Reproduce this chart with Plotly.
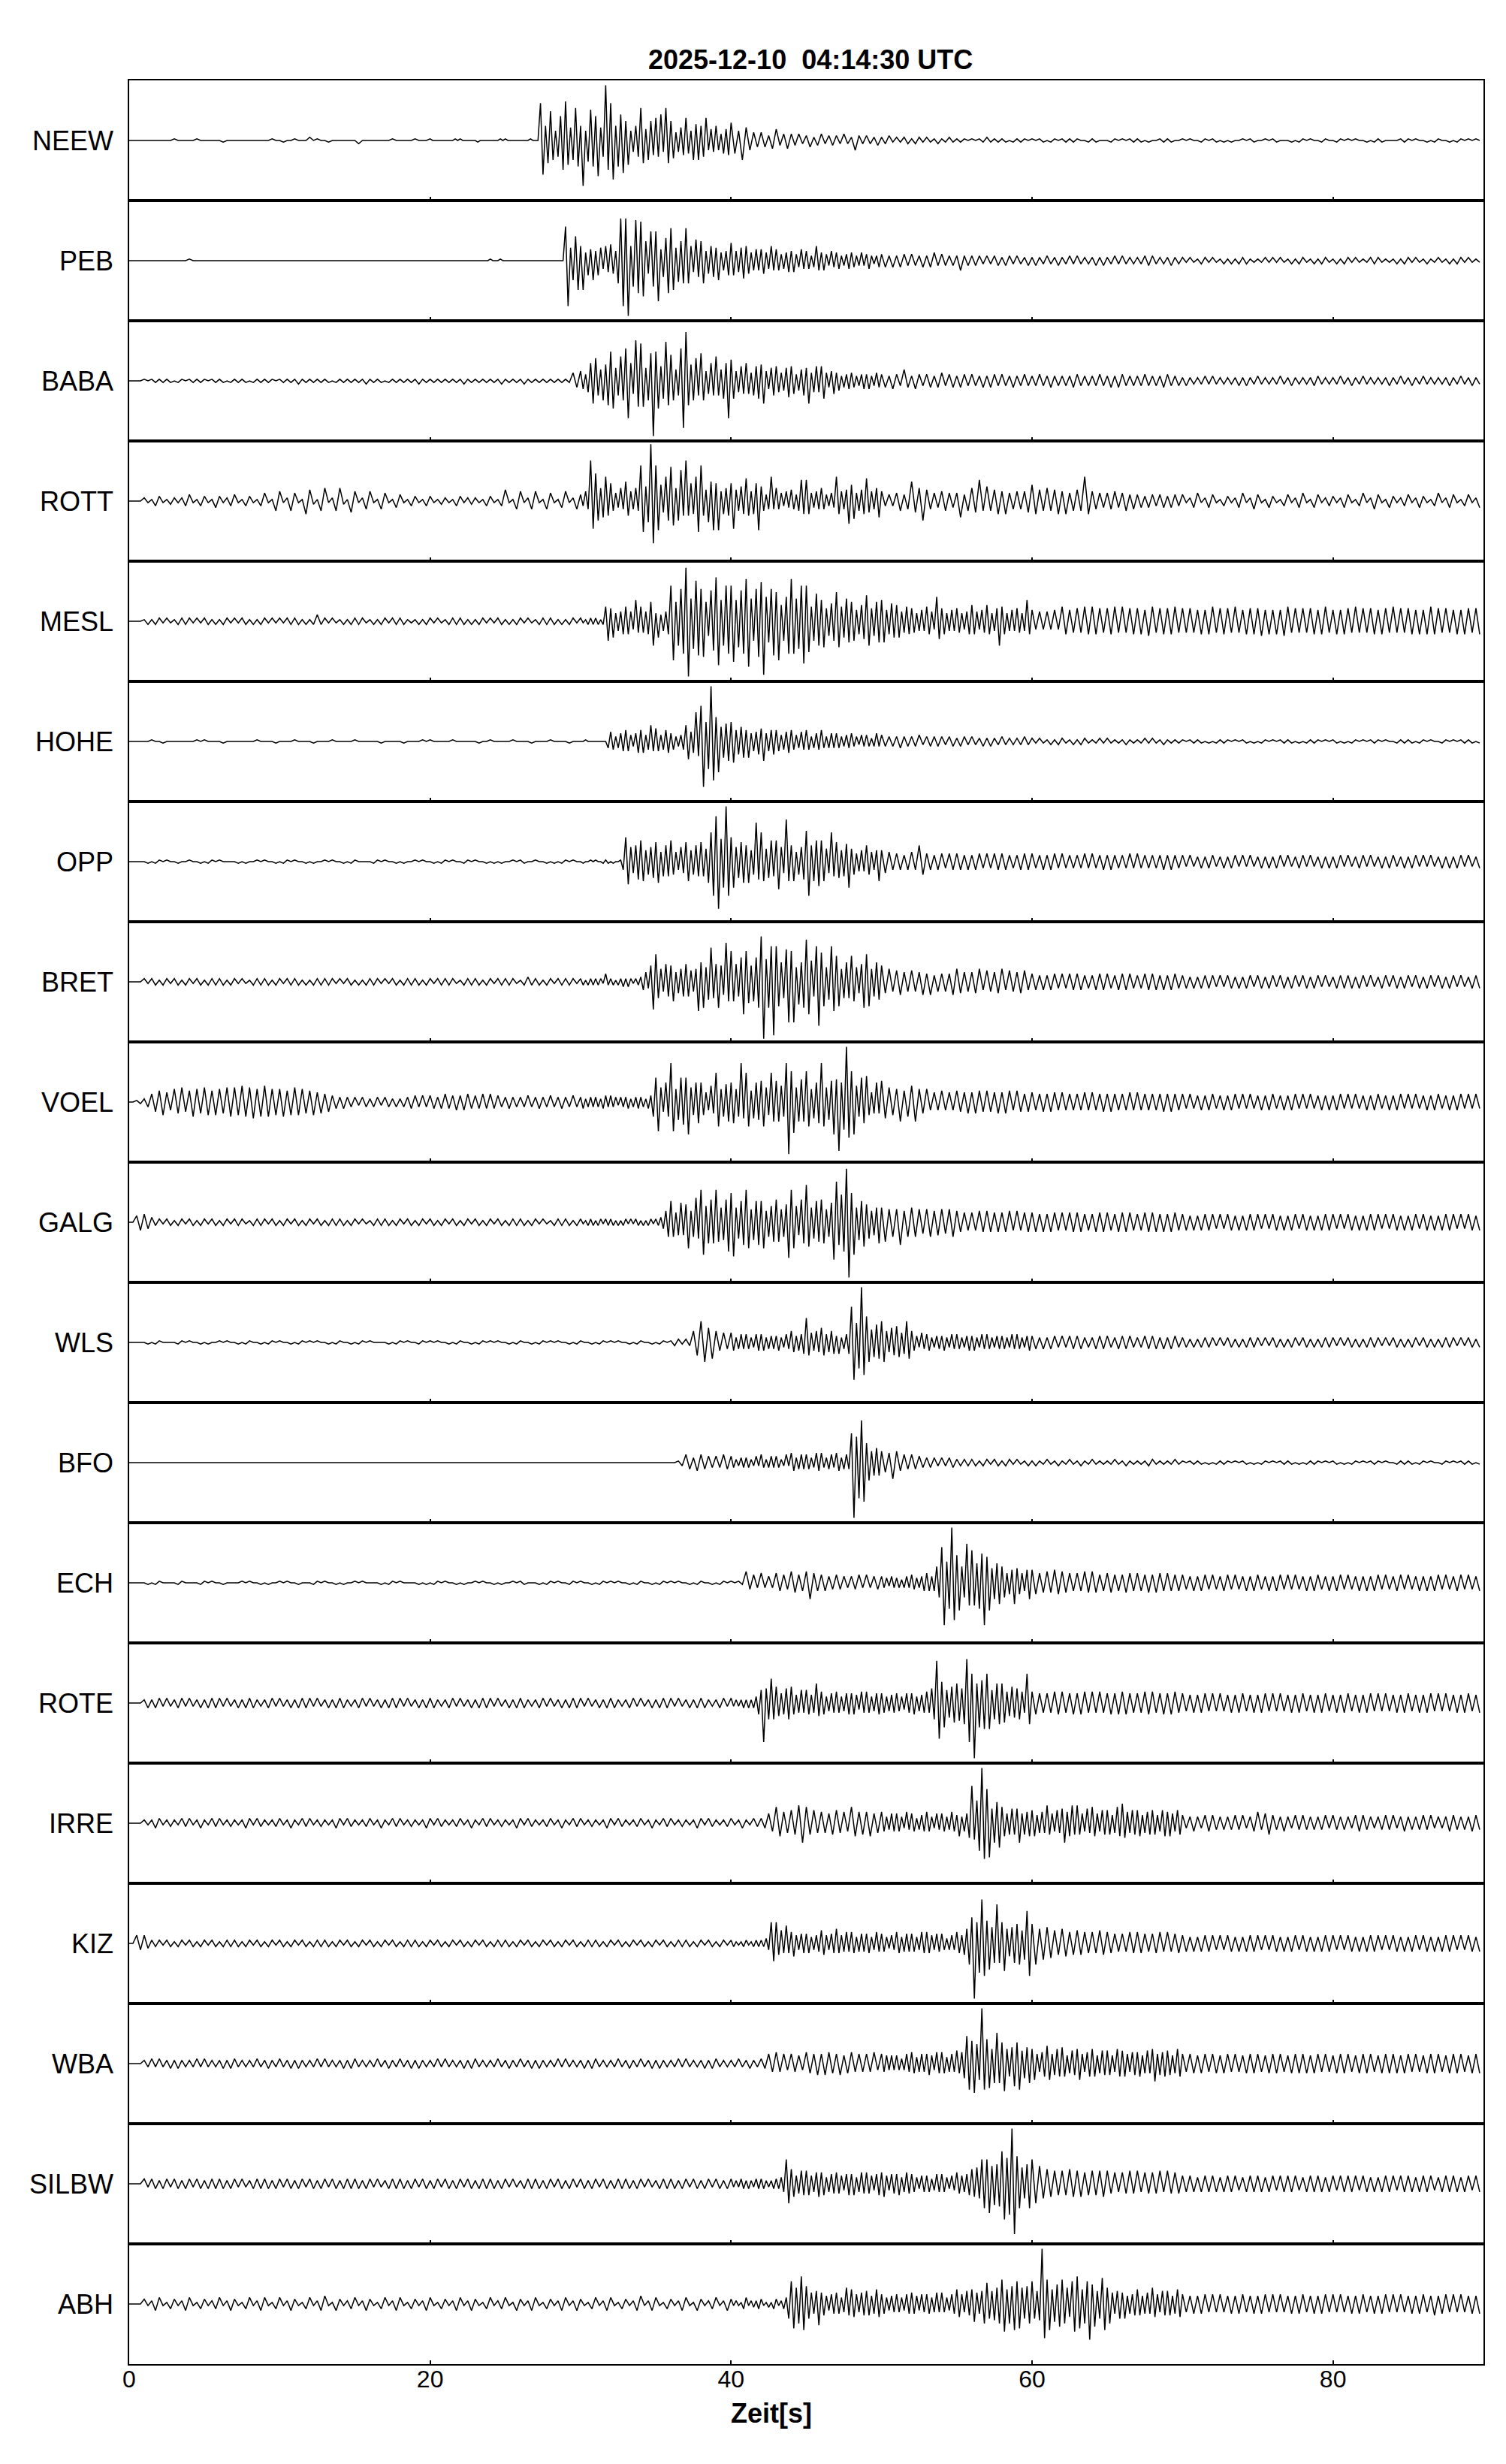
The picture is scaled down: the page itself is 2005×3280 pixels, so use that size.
import plotly.graph_objects as go
from plotly.subplots import make_subplots

# Station names, top to bottom
STATIONS = ["NEEW", "PEB", "BABA", "ROTT", "MESL", "HOHE", "OPP", "BRET", "VOEL",
            "GALG", "WLS", "BFO", "ECH", "ROTE", "IRRE", "KIZ", "WBA", "SILBW", "ABH"]

# Peak amplitudes, one string per 10 s window
# (4 readings per second in quiet windows, 6 per second in the busy ones).
# Code: 0-9 then A=10 ... Z=35 (35 = almost full half-panel). Readings alternate up / down.
NEEW = [
    "0000 0000 0000 1000 0010 0000 0100 0000 0000 0010",
    "0100 1000 2010 0100 0000 0200 0000 0010 0000 1000",
    "100000 000010 100000 010000 000010 100000 000010 00NL9E IC6AFI OF8CKG",
    "9S6DJG FM8AYI NO9GGK CF679A KE7CC9 EAG7KE CB5789 E86CAC 9AE677 964879",
    "B86C 8654 5435 7345 4342 3423 4233 3242 2632 3223",
    "2231 2122 1221 2112 1121 1110 1011 2111 1101 1110",
    "1011 0110 1111 1001 1100 0110 1011 1101 0011 1100",
    "1010 0110 1101 0100 1011 0010 1100 0101 1010 0110",
    "0110 1010 0101 1100 0011 1010 0101 1001 0110 1010",
]
PEB = [
    "0000 0000 0000 0000 1000 0000 0000 0000 0000 0000",
    "0000 0000 0000 0000 0000 0000 0000 0000 0000 0000",
    "000000 000000 000000 000000 100010 000000 000000 000000 000000 LS8CFI",
    "9I597C 698597 A86EQS QY9GPK OMC8IG IP7AEK KI8DCE KE97DA CE689A 8C5669",
    "B9678B 985676 785596 764557 674475 653496 564364 553345 543353 453234",
    "4434 3443 4334 3453 4333 3633 3332 3233 2332 3223",
    "2322 3223 2232 3222 2323 2232 3222 2233 3222 2322",
    "2121 1221 2112 1212 2211 1121 2121 1212 2112 1221",
    "1212 2121 1122 2111 1212 2121 1211 2112 1221 2111",
]
BABA = [
    "0000 1011 1111 0110 1111 1011 1101 1111 0111 1110",
    "1111 1211 1111 1101 1111 1112 1111 0111 1111 1211",
    "1111 1111 1211 1111 1112 1111 1211 1111 1111 1154",
    "6547BE E97CAF IH89FC KNB8PG NG8CHY IH9BOF GC79KT UFACE9 HC68B9 F97BBN",
    "DB6798 B8599B AE6589 97568A 984679 8E5797 9B5468 563445 543345 453354",
    "4435 4374 3543 4434 5344 3443 4334 3443 4334 3343",
    "3343 3433 3334 4333 3343 3434 4333 3343 3334 4333",
    "2322 2232 3222 2223 2322 3222 2232 2322 2223 3222",
    "2232 2322 3222 2223 2232 2322 3222 2223 2232 2322",
]
ROTT = [
    "0000 2113 3112 2123 4113 3114 3123 4113 3113 5116",
    "6126 5118 7216 8126 8217 6125 6115 5114 4113 3113",
    "3112 2113 3122 2113 3113 7115 6125 6115 5114 6125",
    "4365PH HC8AF9 B65485 C96586 MJ9DZQ MIA7FC LF8CJ9 P9B8FJ M97DCI BI6889",
    "BH7698 E968BI 9645F5 855364 7546D8 D85465 854354 F8657E AB5678 E7658A",
    "6343 5645 C78C 7554 6654 5A46 87D6 9678 6855 6567",
    "A876 8678 6856 76F8 6554 5564 5645 4434 4344 3443",
    "4124 5124 4113 3124 5125 4114 3113 4124 5114 4123",
    "3124 4113 5125 4114 3123 4124 3113 5124 4113 4124",
]
MESL = [
    "0000 1212 2121 1222 2121 2212 1221 2122 1212 2121",
    "2122 2212 1242 2121 1212 2221 1212 2122 2211 1212",
    "2121 1222 2212 1221 2122 1212 2121 1222 2212 1221",
    "211222 22129C 8A5668 9865D7 9768CF 5A4668 MOCFKK XYEHPL KMC9JI RRDFMK",
    "MPDGJK QSECKM OXFDKL IOACFK QKEHMQ MJ9CHF DG89BC IG9AED CC78AB GF89CD",
    "DD78BA AA6798 875676 9865FB 885676 875568 A86577 A8568F 985676 8756D8",
    "7565 6575 9877 8798 9887 8897 9788 8879 9788 8897",
    "8787 7878 9788 8797 7888 8978 7879 9787 8788 7897",
    "7878 8797 8788 7887 9787 8878 7898 8787 7878 8788",
]
HOHE = [
    "0000 0010 0100 0000 0010 1000 0100 0000 0010 0001",
    "0000 1000 0100 0010 0000 1000 0001 0000 0100 0010",
    "1000 0010 0000 0100 1000 0010 0001 0000 1000 0100",
    "001000 000004 653456 764357 7745A6 864577 553345 AB67I9 MSCHYO FJ9ABC",
    "CD789A 7A5668 8C5678 764567 754465 753455 743454 543344 533243 432353",
    "4333 3433 3342 3333 3233 2332 3223 2322 3222 2232",
    "2121 1212 2112 1221 1121 2111 1211 1121 2112 1111",
    "1011 1101 0111 1010 1101 0110 1011 1101 0111 1010",
    "1101 0110 1011 1010 0111 1101 1010 0110 1011 1101",
]
OPP = [
    "0000 0101 1010 0100 1001 0110 1000 0101 0010 1001",
    "0110 1001 0100 1010 0101 1000 0110 1001 0100 1010",
    "0101 1010 0110 1001 0101 0010 1100 1001 0101 1010",
    "010010 100111 010015 FE97AB DC789A CD69A9 D86597 CC78A9 C98DIL STEGYL",
    "FG9ACD AD78OB IC8AD9 DH97QC AC689B JLACDF DC87I9 CA79BG 885676 A8657C",
    "7765 5545 65A8 5545 5455 5545 4554 5455 5544 4555",
    "5445 4554 5444 4454 5445 4544 4454 5444 4445 4544",
    "4343 3434 4334 3443 4343 3434 3443 4334 4343 3434",
    "3443 4334 4343 3434 4334 3443 4343 3434 3443 4334",
]
BRET = [
    "0000 2122 1221 2212 2122 1222 2212 2121 1222 2212",
    "2122 2212 1222 2221 2122 1212 2221 2122 1222 2212",
    "2122 2221 1222 2212 2122 2221 1232 2212 2122 2221",
    "221222 222152 221223 232122 3564AH HA86B9 AC6789 B9768I CG9BLA BGA8OC",
    "JCB9FK JDACFG SZEGMX MFCAKP JP9ECG QKD9MR IF9BMI GF8ACA GC97BG HF89CB",
    "A786 7866 7668 5846 5658 8766 6785 7667 8576 6775",
    "5545 4554 5455 5544 4555 5445 5554 4455 5545 4554",
    "4434 3444 4343 4434 3443 4434 4344 3443 4434 4343",
    "3444 4434 4343 3443 4434 4344 3443 4434 4343 3444",
]
VOEL = [
    "0011 2356 7865 8796 7987 9878 8799 98A9 9A89 A988",
    "8978 9887 7867 5644 3433 3233 2332 3323 2334 4343",
    "4434 5445 4554 4454 5443 3433 3343 3433 4334 3343",
    "342333 332443 433233 342334 332449 FI96C9 OI8BFE FK98CD C865A7 IF89BC",
    "CD89OA IF7ACB DF98IC DCA9OW JJ9CEC JF8ACD OF9BDK EUCHYM JKA9FD G867C7",
    "DA98 8C79 AC87 8565 7565 7667 6776 7667 6775 7656",
    "6556 5665 6555 5565 6556 5655 5565 6555 5556 5655",
    "5454 4545 5445 4554 5454 4545 5445 4554 5454 4545",
    "4554 5454 4545 5445 4554 5454 4545 5445 4554 5454",
]
GALG = [
    "0045 5432 2122 1221 2212 2122 1221 2221 1222 2122",
    "1221 2212 2122 1222 2212 2121 1222 2212 2122 1221",
    "2212 2122 1221 2212 2122 1222 2212 2121 1222 2212",
    "211222 122122 221212 212122 121221 223479 D968C8 BG79FA KKADED KC9BEI",
    "IL9ADE KG8BDE DG79AC EC89BM KGA8ED NF9ADC ED89CN PEHIXY IK9BDF BA789D",
    "9C89 8E79 9987 8978 8789 7665 6576 7666 6675 7566",
    "6656 5665 6566 6655 5666 6556 6665 5566 6656 5665",
    "5545 4555 5454 5545 4555 5454 5545 4554 5545 4555",
    "5454 5545 4555 5454 5545 4554 5545 4555 5454 5545",
]
WLS = [
    "0000 0101 1000 0110 1001 0100 1010 0101 1001 0110",
    "1001 0110 1010 0101 1001 0110 1000 0101 1010 0110",
    "1010 0101 1001 0110 1010 0101 1001 0110 1010 0101",
    "1001 0110 1010 0101 1001 0110 1221 2278 DC9A 7564",
    "653454 543355 553444 453354 764557 F86576 985677 473457 MNCGYK GC89BA",
    "DC7698 A967DA 754364 553344 453354 543345 453354 543344 443354 543345",
    "4434 3443 4344 4433 3444 4334 4443 3344 4434 3443",
    "3323 2333 3232 3323 2333 3232 3323 2332 3323 2333",
    "3232 3323 2333 3232 3323 2332 3323 2333 3232 3323",
]
BFO = [
    "0000 0000 0000 0000 0000 0000 0000 0000 0000 0000",
    "0000 0000 0000 0000 0000 0000 0000 0000 0000 0000",
    "0000 0000 0000 0000 0000 0000 0000 0000 0000 0000",
    "0000 0000 0000 0000 0000 0000 0012 5435 5443 4354",
    "432233 332242 532343 432252 653454 543365 633453 653454 IYGMQO CB7898",
    "766A 7554 5443 3332 3233 2222 2212 2122 1221 2112",
    "1211 2112 1121 1211 2111 1121 1211 1112 2111 1121",
    "1011 1101 0111 1010 1101 0110 1011 1101 0111 1010",
    "1101 0110 1011 1010 0111 1101 1010 0110 1011 1101",
]
ECH = [
    "0000 0101 1000 0110 0001 1010 0100 0010 1001 0100",
    "1010 0100 0110 1001 0100 1010 0001 0110 1000 0101",
    "0110 1001 0100 1010 0101 0010 1100 0101 1010 0110",
    "1001 0110 1010 0101 1001 0110 1010 0101 1001 0110",
    "1011 7453 6343 6554 7655 7A65 5544 5443 4453 5344",
    "433243 332343 543345 6545A9 MQDGYN HHA9OE KECGIQ GH9ACD A9678D 97658A",
    "8766 7687 7665 6576 7655 6655 5665 6556 5665 6555",
    "5445 4554 5445 5454 4545 5445 4554 5454 4545 5445",
    "4554 5445 4545 5454 4554 5445 4545 5454 4554 5445",
]
ROTE = [
    "0000 2323 3232 2332 3223 2333 3232 2323 3322 2332",
    "3223 2333 3232 2323 3322 2332 3223 2333 3232 2323",
    "3322 2332 3223 2333 3232 2323 3322 2332 3223 2333",
    "3232 2323 3322 2332 3223 2333 3232 2323 3322 2332",
    "322223 232347 8O9AFA A8679A A75686 8756C8 774566 764567 675476 764567",
    "664556 654466 674556 769AQM DF89AC CB9DRO IYCFEG IG8ACD CC78A9 9A76ID",
    "7766 6677 7667 6776 7676 6767 7766 6677 7667 6776",
    "6556 5665 6565 5656 6556 5665 6565 5656 6556 5665",
    "5656 6556 5665 6565 5656 6556 5665 6565 5656 6556",
]
IRRE = [
    "0000 2123 3122 2132 3123 2132 3122 2123 3132 2122",
    "3123 2132 3122 2123 3132 2122 3123 2132 3122 2123",
    "3132 2122 3123 2132 3122 2123 3132 2122 3123 2132",
    "3122 2123 3132 2122 3123 2132 3122 2123 3132 2122",
    "3123 2132 3365 A876 87BC A786 7667 8675 A877 7866",
    "754465 654374 653455 754364 654475 584569 NAEHYM LL9CDF A86797 9C6778",
    "885676 B76586 9C78B7 B76596 A86587 8756A8 C97687 885677 875588 786587",
    "5345 4355 5444 4454 5345 7467 5445 4354 5444 4453",
    "5444 4355 5443 4454 5345 4444 5453 4345 5444 4554",
]
KIZ = [
    "0054 5322 2122 1221 2212 2122 1222 2212 2122 1221",
    "2212 2122 1222 2212 2122 1221 2212 2122 1222 2212",
    "2122 1221 2212 2122 1222 2212 2122 1221 2212 2122",
    "1222 2212 2122 1221 2212 2122 1222 2212 2122 1221",
    "221112 211222 2234DB D786B6 785466 664455 875466 965575 764565 664475",
    "654354 764565 654476 765465 643454 76579D GYDIRK EGACOC DH98AC CD8AKK",
    "CD9A A987 9877 8776 7687 7665 6576 7665 6675 7566",
    "5545 4555 5454 5545 4555 5454 5545 4554 5545 4555",
    "5454 5545 4555 5454 5545 4554 5545 4555 5454 5545",
]
WBA = [
    "0000 2232 3223 2322 2232 3222 2323 3222 2232 2322",
    "3223 2322 2232 3222 2323 3222 2232 2322 3223 2322",
    "2232 3222 2323 3222 2232 2322 3223 2322 2232 3222",
    "2323 3222 2232 2322 3223 2322 2232 3222 2323 3222",
    "2232 2322 3365 7564 6554 7667 6776 6756 7565 6574",
    "655454 543465 764565 675476 764565 8679HG EICAYG FF9CJC DH98AE DG89AC",
    "9A6578 BA6798 A85687 9A6578 985687 875598 886577 785686 9B6778 875698",
    "6566 5665 6656 6565 5666 6556 6665 5666 6656 6565",
    "5666 6556 6665 5666 6656 6565 5666 6556 6665 5666",
]
SILBW = [
    "0000 3233 2332 3323 3233 2333 3323 3232 2333 3323",
    "3233 2332 3323 3233 2333 3323 3232 2333 3323 3233",
    "2332 3323 3233 2333 3323 3232 2333 3323 3233 2332",
    "3323 3233 2333 3323 3232 2333 3323 3233 2332 3323",
    "322233 232233 332223 3345FC 985687 875578 774566 765467 674576 765467",
    "785466 674576 654355 553465 654354 765567 98A9FF FIBDCE KMGJYV HFA9CF",
    "FCB9 9887 8798 8877 8788 8675 7686 8576 7685 8676",
    "5555 4555 5545 5554 4555 5545 5455 5554 4555 5545",
    "5455 5554 5545 4555 5455 5545 5554 4555 5545 5455",
]
ABH = [
    "0000 3124 4113 3124 4113 3123 4124 3113 4124 4113",
    "4124 3113 4124 5114 3123 4124 3113 4124 4113 3124",
    "4113 3124 4124 3113 4123 4114 3124 4113 3124 4124",
    "3113 4124 4113 3124 5124 4113 3124 4114 3123 4124",
    "312113 412223 311213 312349 EFACHG B9768D 775466 7645A7 986577 875698",
    "664455 654466 765465 664575 754466 986587 9B768C D98AAC FH9CBG EFA9BC",
    "E98AYL FG9BCE FCA8EH HF9CEM CE89GG AC7689 795667 975676 A86587 875698",
    "6556 5665 6565 5656 6556 5665 6565 5656 6556 5665",
    "6565 5656 6556 5665 6565 5656 6557 5665 6565 5656",
]

TRACES = [NEEW, PEB, BABA, ROTT, MESL, HOHE, OPP, BRET, VOEL,
          GALG, WLS, BFO, ECH, ROTE, IRRE, KIZ, WBA, SILBW, ABH]

X_TICKS = [0, 20, 40, 60, 80]
X_RANGE = [0, 90]
TITLE = "2025-12-10\u00a0 04:14:30 UTC"
X_TITLE = "Zeit[s]"

CODE = "0123456789ABCDEFGHIJKLMNOPQRSTUVWXYZ"
SEGMENT_SECONDS = 10.0
Y_HALF = 37


def decode(segments):
    t, y = [], []
    for s, seg in enumerate(segments):
        chars = seg.replace(" ", "")
        n = len(chars)
        for j, ch in enumerate(chars):
            v = CODE.index(ch)
            t.append(s * SEGMENT_SECONDS + j * SEGMENT_SECONDS / n)
            y.append(v if j % 2 == 0 else -v)
    return t, y


FONT = "Liberation Sans, Arial, Helvetica, sans-serif"
n_rows = len(STATIONS)
fig = make_subplots(rows=n_rows, cols=1, shared_xaxes=True, vertical_spacing=0)

for i, (name, segs) in enumerate(zip(STATIONS, TRACES)):
    t, y = decode(segs)
    fig.add_trace(
        go.Scatter(x=t, y=y, mode="lines", line=dict(color="black", width=1.5),
                   showlegend=False, hoverinfo="skip"),
        row=i + 1, col=1)
    yref = "y" if i == 0 else f"y{i + 1}"
    fig.add_annotation(text=name, xref="paper", x=-0.0105, xanchor="right",
                       yref=yref, y=0, yanchor="middle", showarrow=False,
                       font=dict(family=FONT, size=36, color="black"))

fig.update_yaxes(range=[-Y_HALF, Y_HALF], showticklabels=False, ticks="",
                 showgrid=False, zeroline=False, showline=True, mirror=True,
                 linecolor="black", linewidth=2)
fig.update_xaxes(range=X_RANGE, tickvals=X_TICKS, ticks="inside", ticklen=5,
                 tickwidth=2, tickcolor="black", showgrid=False, zeroline=False,
                 showline=True, mirror=True, linecolor="black", linewidth=2,
                 ticklabelstandoff=-9,
                 tickfont=dict(family=FONT, size=32, color="black"))

fig.add_annotation(text="<b>" + TITLE + "</b>", xref="paper", x=0.503, xanchor="center",
                   yref="paper", y=1.0089, yanchor="middle", showarrow=False,
                   font=dict(family=FONT, size=36, color="black"))
fig.add_annotation(text="<b>" + X_TITLE + "</b>", xref="paper", x=0.4742, xanchor="center",
                   yref="paper", y=-0.0217, yanchor="middle", showarrow=False,
                   font=dict(family=FONT, size=36, color="black"))

# the page adds an 8 px body margin, so the figure is 8 px smaller and the margins compensate
fig.update_layout(width=1997, height=3272,
                  margin=dict(l=164, r=30, t=99, b=133),
                  paper_bgcolor="white", plot_bgcolor="white")

fig.write_html("out.html")
